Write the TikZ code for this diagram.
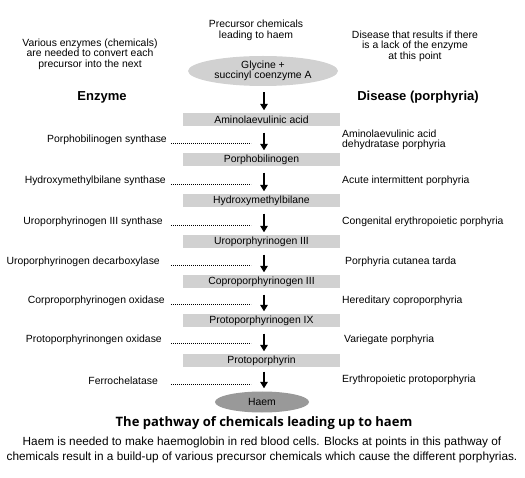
\documentclass[tikz,border=0pt]{standalone}
\usepackage{fontspec}
\setmainfont{Liberation Sans}
\newfontfamily\titlefont{Open Sans}
\usetikzlibrary{arrows.meta,shapes.geometric}
\tikzset{
  small/.style={font=\fontsize{10.4}{11}\selectfont, inner sep=0pt},
  chem/.style={small, fill=black!18, minimum width=157pt, minimum height=13pt, inner sep=0pt},
  oval/.style={small, ellipse, fill=black!18, inner sep=0pt, align=center},
  head/.style={font=\fontsize{13}{15}\selectfont\bfseries, inner sep=0pt},
  flow/.style={line width=2.4pt, -{Triangle[width=7.5pt,length=6.5pt]}, shorten <=6pt, shorten >=3pt},
  dots/.style={line width=0.7pt, dash pattern=on 0.7pt off 1.3pt},
}
\begin{document}
\begin{tikzpicture}[x=1pt,y=-1pt]
\useasboundingbox (0,0) rectangle (525,478);
% headers
\node[small, align=center] (t1) at (90,54) {Various enzymes (chemicals)\\[-0.5pt]are needed to convert each\\[-0.5pt]precursor into the next};
\node[small, align=center] (t2) at (256,30.5) {Precursor chemicals\\[-0.5pt]leading to haem};
\node[small, align=center] (t3) at (415,46) {Disease that results if there\\[-0.5pt]is a lack of the enzyme\\[-0.5pt]at this point};
\node[head] (henz) at (102,97) {Enzyme};
\node[head] (hdis) at (418,97) {Disease (porphyria)};
% chain
\node[oval, minimum width=150pt, minimum height=30pt] (g) at (263,71) {Glycine +\\[-0.5pt]succinyl coenzyme A};
\node[chem] (c1) at (261.5,120) {Aminolaevulinic acid};
\node[chem] (c2) at (261.5,160) {Porphobilinogen};
\node[chem] (c3) at (261.5,201) {Hydroxymethylbilane};
\node[chem] (c4) at (261.5,242) {Uroporphyrinogen III};
\node[chem] (c5) at (261.5,282) {Coproporphyrinogen III};
\node[chem] (c6) at (261.5,321) {Protoporphyrinogen IX};
\node[chem] (c7) at (261.5,361) {Protoporphyrin};
\node[oval, fill=black!40, minimum width=94pt, minimum height=21pt] (h) at (262,402) {Haem};
\draw[flow] (g.south -| 264,0) -- (c1.north -| 264,0);
\draw[flow] (c1.south -| 264,0) -- (c2.north -| 264,0);
\draw[flow] (c2.south -| 264,0) -- (c3.north -| 264,0);
\draw[flow] (c3.south -| 264,0) -- (c4.north -| 264,0);
\draw[flow] (c4.south -| 264,0) -- (c5.north -| 264,0);
\draw[flow] (c5.south -| 264,0) -- (c6.north -| 264,0);
\draw[flow] (c6.south -| 264,0) -- (c7.north -| 264,0);
\draw[flow, shorten <=4pt] (c7.south -| 264,0) -- (h.north -| 264,0);
% enzymes
\node[small, anchor=east] (e1) at (167,140) {Porphobilinogen synthase};
\node[small, anchor=east] (e2) at (166,181) {Hydroxymethylbilane synthase};
\node[small, anchor=east] (e3) at (163,222) {Uroporphyrinogen III synthase};
\node[small, anchor=east] (e4) at (160,262) {Uroporphyrinogen decarboxylase};
\node[small, anchor=east] (e5) at (165,301) {Corproporphyrinogen oxidase};
\node[small, anchor=east] (e6) at (162,340) {Protoporphyrinongen oxidase};
\node[small, anchor=east] (e7) at (158,381) {Ferrochelatase};
\foreach \i/\y in {1/140,2/181,3/222,4/262,5/301,6/340,7/381}{
  \coordinate (da\i) at (171,\y+3.5);
  \coordinate (db\i) at (251,\y+3.5);
  \draw[dots] (da\i) -- (db\i);
}
% diseases
\node[small, anchor=west, align=left] (d1) at (342,140) {Aminolaevulinic acid\\[-0.5pt]dehydratase porphyria};
\node[small, anchor=west] (d2) at (342,181) {Acute intermittent porphyria};
\node[small, anchor=west] (d3) at (342,222) {Congenital erythropoietic porphyria};
\node[small, anchor=west] (d4) at (345,262) {Porphyria cutanea tarda};
\node[small, anchor=west] (d5) at (342,301) {Hereditary coproporphyria};
\node[small, anchor=west] (d6) at (344,340) {Variegate porphyria};
\node[small, anchor=west] (d7) at (342,380) {Erythropoietic protoporphyria};
% caption
\node[font=\titlefont\fontsize{13}{15}\selectfont\bfseries, inner sep=0pt] (title) at (264,423) {The pathway of chemicals leading up to haem};
\node[font=\fontsize{11.8}{15}\selectfont, align=center, inner sep=0pt] (cap) at (262,449.5) {Haem is needed to make haemoglobin in red blood cells. Blocks at points in this pathway of\\chemicals result in a build-up of various precursor chemicals which cause the different porphyrias.};
\end{tikzpicture}
\end{document}
